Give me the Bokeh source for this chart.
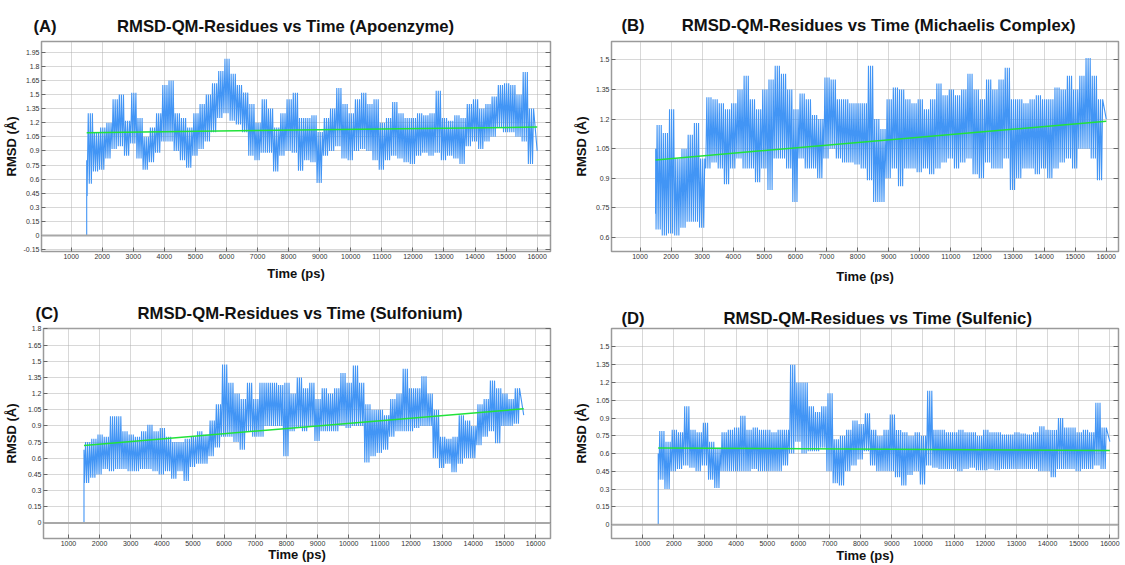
from bokeh.plotting import figure
from bokeh.layouts import column, row
from bokeh.models import Range1d, FixedTicker, Span, LinearAxis
from bokeh.embed import file_html
from bokeh.resources import INLINE

# ---------------- data ----------------
TIME_TICKS = [1000, 2000, 3000, 4000, 5000, 6000, 7000, 8000, 9000, 10000,
              11000, 12000, 13000, 14000, 15000, 16000]
BIN_START = 1600   # centre of the first 200-ps envelope window
BIN_STEP = 200

# Panel A : Apoenzyme (min / max RMSD inside each 200-ps window)
A_head_t = [1500, 1500, 1515]
A_head_v = [0.0, 0.80, 0.42]
A_lo = [0.55, 0.68, 0.70, 0.82, 0.92, 0.95, 0.85, 0.98, 0.82, 0.70, 0.78, 0.88,
        1.00, 1.00, 0.90, 0.80, 0.72, 0.85, 0.92, 1.00, 1.10, 1.25, 1.30, 1.22,
        1.18, 1.10, 0.85, 0.80, 0.88, 0.88, 0.68, 0.85, 0.90, 0.88, 0.69, 0.80,
        0.78, 0.56, 0.85, 0.90, 0.95, 0.82, 0.80, 0.90, 0.92, 0.90, 0.80, 0.70,
        0.80, 0.85, 0.82, 0.78, 0.76, 0.85, 0.88, 0.85, 0.88, 0.80, 0.85, 0.82,
        0.76, 0.95, 1.00, 0.92, 1.00, 1.05, 1.15, 1.10, 1.10, 1.05, 1.00, 0.76]
A_hi = [1.30, 1.10, 1.15, 1.20, 1.45, 1.50, 1.22, 1.52, 1.25, 1.05, 1.15, 1.30,
        1.60, 1.65, 1.30, 1.25, 1.15, 1.30, 1.40, 1.50, 1.62, 1.75, 1.88, 1.72,
        1.60, 1.52, 1.40, 1.20, 1.45, 1.35, 1.15, 1.30, 1.45, 1.52, 1.25, 1.25,
        1.28, 1.10, 1.25, 1.35, 1.57, 1.40, 1.30, 1.45, 1.52, 1.40, 1.45, 1.20,
        1.25, 1.42, 1.30, 1.25, 1.25, 1.30, 1.28, 1.30, 1.54, 1.25, 1.22, 1.28,
        1.25, 1.40, 1.45, 1.35, 1.40, 1.48, 1.60, 1.62, 1.60, 1.50, 1.74, 1.35]
A_tail = (16000, 0.90)
A_trend_t = [1500, 16000]
A_trend_v = [1.094, 1.154]
A_yticks = [-0.15, 0, 0.15, 0.3, 0.45, 0.6, 0.75, 0.9, 1.05, 1.2, 1.35, 1.5,
            1.65, 1.8, 1.95]

# Panel B : Michaelis Complex
B_head_t = [1500, 1505]
B_head_v = [0.72, 1.05]
B_lo = [0.64, 0.61, 0.62, 0.61, 0.65, 0.68, 0.68, 0.65, 0.95, 0.98, 0.95, 0.87,
        0.95, 1.00, 0.95, 0.95, 0.88, 0.95, 0.84, 1.00, 1.00, 0.95, 0.78, 1.00,
        0.95, 0.95, 0.90, 1.00, 1.05, 1.00, 0.98, 0.98, 0.97, 0.95, 0.89, 0.78,
        0.78, 0.90, 0.95, 0.86, 0.95, 0.95, 0.93, 0.95, 0.92, 0.95, 0.98, 1.00,
        0.95, 0.98, 1.00, 0.92, 0.90, 0.98, 0.95, 0.95, 1.00, 0.84, 0.90, 0.95,
        0.95, 0.92, 0.95, 0.90, 0.95, 0.98, 1.00, 0.95, 1.05, 1.05, 1.00, 0.89]
B_hi = [1.17, 1.13, 1.25, 1.00, 1.05, 1.12, 1.18, 1.00, 1.31, 1.30, 1.28, 1.25,
        1.28, 1.35, 1.42, 1.30, 1.25, 1.35, 1.40, 1.47, 1.43, 1.35, 1.25, 1.33,
        1.30, 1.22, 1.20, 1.41, 1.40, 1.30, 1.30, 1.28, 1.28, 1.28, 1.47, 1.20,
        1.15, 1.30, 1.36, 1.35, 1.30, 1.28, 1.30, 1.25, 1.30, 1.38, 1.32, 1.35,
        1.32, 1.35, 1.43, 1.35, 1.30, 1.40, 1.35, 1.40, 1.46, 1.30, 1.30, 1.28,
        1.30, 1.32, 1.30, 1.30, 1.36, 1.35, 1.42, 1.35, 1.42, 1.51, 1.42, 1.30]
B_tail = (16000, 1.20)
B_trend_t = [1500, 16000]
B_trend_v = [0.993, 1.189]
B_yticks = [0.6, 0.75, 0.9, 1.05, 1.2, 1.35, 1.5]

# Panel C : Sulfonium
C_head_t = [1500, 1500, 1515]
C_head_v = [0.0, 0.68, 0.45]
C_lo = [0.37, 0.42, 0.45, 0.50, 0.48, 0.50, 0.50, 0.48, 0.48, 0.50, 0.50, 0.48,
        0.45, 0.48, 0.41, 0.48, 0.39, 0.52, 0.55, 0.55, 0.62, 0.70, 0.80, 0.80,
        0.75, 0.68, 0.85, 0.80, 0.80, 0.90, 0.90, 0.90, 0.62, 0.85, 0.88, 0.85,
        0.90, 0.76, 0.85, 0.85, 0.85, 0.90, 0.88, 0.90, 0.90, 0.56, 0.62, 0.65,
        0.68, 0.80, 0.85, 0.85, 0.85, 0.88, 0.90, 0.90, 0.60, 0.51, 0.55, 0.47,
        0.55, 0.60, 0.60, 0.72, 0.80, 0.85, 0.74, 0.90, 0.90, 0.92]
C_hi = [0.75, 0.78, 0.82, 0.80, 0.99, 0.99, 0.85, 0.82, 0.80, 0.85, 0.91, 0.85,
        0.88, 0.80, 0.75, 0.75, 0.78, 0.80, 0.85, 0.82, 0.95, 1.10, 1.47, 1.30,
        1.20, 1.15, 1.30, 1.15, 1.30, 1.30, 1.30, 1.28, 1.30, 1.20, 1.35, 1.25,
        1.30, 1.15, 1.25, 1.20, 1.25, 1.39, 1.30, 1.46, 1.30, 1.10, 1.05, 1.05,
        1.00, 1.15, 1.20, 1.43, 1.25, 1.25, 1.36, 1.20, 1.05, 0.80, 0.78, 0.80,
        1.00, 0.95, 0.90, 1.10, 1.15, 1.32, 1.25, 1.20, 1.15, 1.25]
C_tail = (15620, 1.00)
C_trend_t = [1500, 15620]
C_trend_v = [0.719, 1.059]
C_yticks = [0, 0.15, 0.3, 0.45, 0.6, 0.75, 0.9, 1.05, 1.2, 1.35, 1.5, 1.65, 1.8]

# Panel D : Sulfenic
D_head_t = [1500, 1500, 1515]
D_head_v = [0.0, 0.60, 0.40]
D_lo = [0.38, 0.30, 0.45, 0.47, 0.50, 0.48, 0.45, 0.50, 0.38, 0.31, 0.45, 0.45,
        0.45, 0.45, 0.45, 0.47, 0.45, 0.45, 0.45, 0.45, 0.50, 0.60, 0.70, 0.60,
        0.62, 0.62, 0.65, 0.45, 0.35, 0.33, 0.45, 0.50, 0.55, 0.62, 0.50, 0.45,
        0.45, 0.45, 0.40, 0.33, 0.42, 0.45, 0.34, 0.50, 0.48, 0.47, 0.47, 0.47,
        0.45, 0.47, 0.48, 0.46, 0.46, 0.47, 0.46, 0.47, 0.47, 0.47, 0.47, 0.47,
        0.47, 0.45, 0.45, 0.40, 0.47, 0.47, 0.47, 0.45, 0.47, 0.47, 0.50, 0.47]
D_hi = [0.79, 0.70, 0.80, 0.78, 1.00, 0.80, 0.78, 0.86, 0.70, 0.65, 0.78, 0.80,
        0.82, 0.92, 0.80, 0.82, 0.80, 0.80, 0.78, 0.80, 0.80, 1.35, 1.20, 1.20,
        1.00, 0.95, 1.00, 1.11, 0.72, 0.75, 0.80, 0.88, 0.85, 0.94, 0.80, 0.75,
        0.80, 0.93, 0.80, 0.78, 0.75, 0.78, 0.75, 1.13, 0.80, 0.80, 0.78, 0.78,
        0.80, 0.78, 0.78, 0.75, 0.80, 0.78, 0.78, 0.76, 0.76, 0.78, 0.77, 0.76,
        0.78, 0.83, 0.80, 0.80, 0.90, 0.82, 0.82, 0.78, 0.80, 0.78, 1.03, 0.82]
D_tail = (16000, 0.70)
D_trend_t = [1500, 16000]
D_trend_v = [0.647, 0.625]
D_yticks = [0, 0.15, 0.3, 0.45, 0.6, 0.75, 0.9, 1.05, 1.2, 1.35, 1.5]

TITLES = ["RMSD-QM-Residues vs Time (Apoenzyme)",
          "RMSD-QM-Residues vs Time (Michaelis Complex)",
          "RMSD-QM-Residues vs Time (Sulfonium)",
          "RMSD-QM-Residues vs Time (Sulfenic)"]
TAGS = ["(A)", "(B)", "(C)", "(D)"]
X_LABEL = "Time (ps)"
Y_LABEL = "RMSD (\u00c5)"

# ---------------- styling / layout ----------------
BLUE = "#4295f5"
GREEN = "#22e23a"
FONT = "Liberation Sans"
NBSP = "\u00a0"

# page layout of each panel (origin, size, frame box, visible ranges, text tuning)
SPECS = [
    dict(ox=0, oy=0, w=570, h=290, L=41, R=550, T=41, B=251,
         xr=(45, 16429), yr=(-0.170, 2.064),
         gap=13, t_off=-8, t_stand=11, xl_s=4, yl_s=2),
    dict(ox=570, oy=0, w=555, h=290, L=608, R=1118, T=41, B=251,
         xr=(83, 16394), yr=(0.529, 1.593),
         gap=8, t_off=10, t_stand=14, xl_s=7, yl_s=4),
    dict(ox=0, oy=290, w=570, h=275, L=41, R=550, T=328, B=540,
         xr=(200, 16480), yr=(-0.144, 1.8035),
         gap=17, t_off=-8, t_stand=12, xl_s=-2, yl_s=6),
    dict(ox=570, oy=290, w=555, h=275, L=608, R=1118, T=328, B=540,
         xr=(0, 16277), yr=(-0.117, 1.656),
         gap=17, t_off=10, t_stand=1, xl_s=-1, yl_s=4),
]

DATA = [
    (A_head_t, A_head_v, A_lo, A_hi, A_tail, A_trend_t, A_trend_v, A_yticks),
    (B_head_t, B_head_v, B_lo, B_hi, B_tail, B_trend_t, B_trend_v, B_yticks),
    (C_head_t, C_head_v, C_lo, C_hi, C_tail, C_trend_t, C_trend_v, C_yticks),
    (D_head_t, D_head_v, D_lo, D_hi, D_tail, D_trend_t, D_trend_v, D_yticks),
]


def trace(head_t, head_v, lo, hi, tail):
    """Dense min/max trace: each 200-ps window swings between its read extremes."""
    xs, ys = list(head_t), list(head_v)
    for i, (l, h) in enumerate(zip(lo, hi)):
        c = BIN_START + BIN_STEP * i
        for k in range(6):
            xs.append(c - BIN_STEP / 2 + BIN_STEP / 6 * (k + 0.5))
            ys.append(l if k % 2 == 0 else h)
    xs.append(tail[0])
    ys.append(tail[1])
    return xs, ys


def style_axis(ax):
    ax.axis_line_color = "#9a9a9a"
    ax.major_tick_line_color = "#666666"
    ax.minor_tick_line_color = None
    ax.major_tick_in = 4
    ax.major_tick_out = 0
    ax.major_label_standoff = 2
    ax.major_label_text_font = FONT
    ax.major_label_text_font_size = "7px"
    ax.major_label_text_color = "#333333"
    ax.axis_label_text_font = FONT
    ax.axis_label_text_font_size = "13px"
    ax.axis_label_text_font_style = "bold"
    ax.axis_label_text_color = "#111111"


def make_panel(spec, data, title, tag):
    head_t, head_v, lo, hi, tail, tr_t, tr_v, yticks = data
    x0, x1 = spec["xr"]
    y0, y1 = spec["yr"]
    L, R, T, B = spec["L"], spec["R"], spec["T"], spec["B"]

    p = figure(width=spec["w"], height=spec["h"], output_backend="svg",
               toolbar_location=None, x_range=Range1d(x0, x1), y_range=Range1d(y0, y1),
               min_border_left=L - spec["ox"], min_border_right=spec["ox"] + spec["w"] - R,
               min_border_top=T - spec["oy"], min_border_bottom=spec["oy"] + spec["h"] - B)
    p.background_fill_color = "white"
    p.border_fill_color = "white"
    p.outline_line_color = "#9a9a9a"
    p.outline_line_width = 1.5

    # title line: "(A)" tag followed by the chart title
    p.title.text = tag + NBSP * spec["gap"] + title
    p.title.align = "left"
    p.title.offset = spec["t_off"]
    p.title.standoff = spec["t_stand"]
    p.title.vertical_align = "bottom"
    p.title.text_font = FONT
    p.title.text_font_size = "16.7px"
    p.title.text_font_style = "bold"
    p.title.text_color = "#111111"

    xa, ya = p.xaxis[0], p.yaxis[0]
    style_axis(xa)
    style_axis(ya)
    xa.ticker = FixedTicker(ticks=TIME_TICKS)
    ya.ticker = FixedTicker(ticks=yticks)
    ya.major_label_overrides = {v: ("%g" % v) for v in yticks}
    xa.axis_label = X_LABEL
    ya.axis_label = Y_LABEL
    xa.axis_label_standoff = spec["xl_s"]
    ya.axis_label_standoff = spec["yl_s"]

    ra = LinearAxis(ticker=FixedTicker(ticks=yticks), axis_line_color=None,
                    major_tick_in=5, major_tick_out=0, minor_tick_line_color=None,
                    major_tick_line_color="#666666", major_label_standoff=0,
                    major_label_overrides={v: "" for v in yticks})
    p.add_layout(ra, "right")

    for g in (p.xgrid[0], p.ygrid[0]):
        g.grid_line_color = "#b0b0b0"
        g.grid_line_dash = "1 1"
        g.grid_line_width = 1
    p.xgrid[0].ticker = FixedTicker(ticks=TIME_TICKS)
    p.ygrid[0].ticker = FixedTicker(ticks=yticks)

    if y0 < 0 < y1:
        p.add_layout(Span(location=0, dimension="width", line_color="#a8a8a8",
                          line_width=2))

    xs, ys = trace(head_t, head_v, lo, hi, tail)
    p.line(xs, ys, line_color=BLUE, line_width=1.1)
    p.line(tr_t, tr_v, line_color=GREEN, line_width=1.5)
    return p


panels = [make_panel(s, d, t, g) for s, d, t, g in zip(SPECS, DATA, TITLES, TAGS)]
layout = column(row(panels[0], panels[1]), row(panels[2], panels[3]))

open("out.html", "w").write(file_html(layout, INLINE))
